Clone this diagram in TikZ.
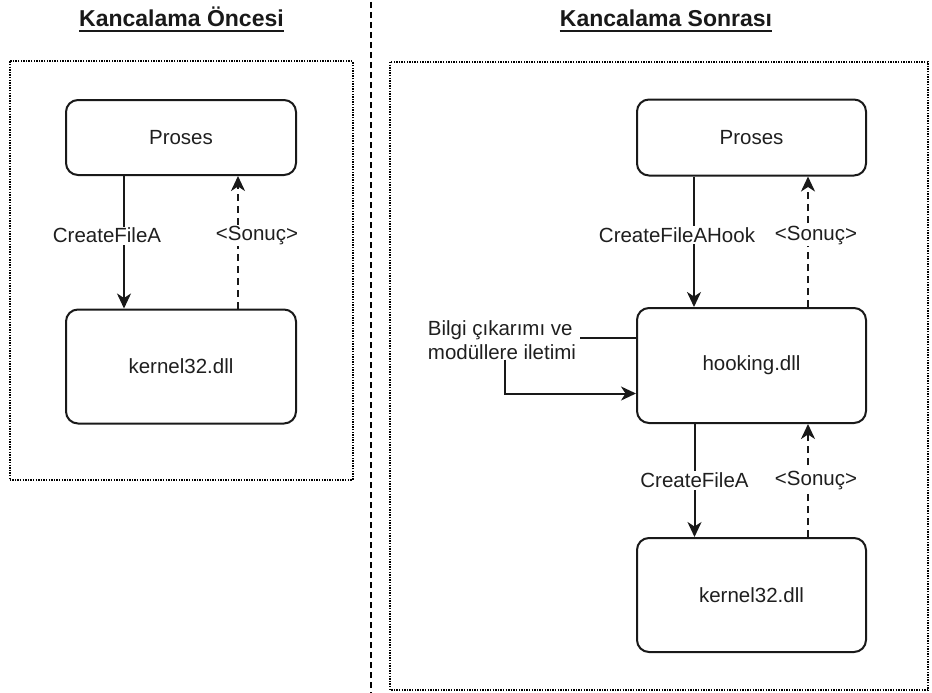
\documentclass[tikz,border=0pt]{standalone}
\usepackage{fontspec}
\setmainfont{Liberation Sans}
\usetikzlibrary{arrows.meta,calc}
\begin{document}
\begin{tikzpicture}[x=1pt,y=-1pt,
  txt/.style={text=black!88, font=\fontsize{20.5}{24}\selectfont},
  block/.style={draw=black!90, line width=2pt, rounded corners=12pt, inner sep=0pt, txt},
  panel/.style={draw=black, line width=2pt, dash pattern=on 1.4pt off 1.2pt},
  divider/.style={draw=black, line width=2.2pt, dash pattern=on 6pt off 4pt},
  heading/.style={font=\fontsize{23}{27}\selectfont\bfseries, text=black!90, inner sep=0pt},
  flow/.style={line width=2pt, draw=black!90, -{Stealth[length=15pt,width=14pt,inset=4.5pt]}},
  back/.style={flow, dash pattern=on 7pt off 5pt},
  lbl/.style={txt, fill=white, inner sep=1.5pt},
]
\useasboundingbox (0,0) rectangle (932,693);

% headings with underline
\node[heading, anchor=base] (t1) at (181.5,27) {Kancalama Öncesi};
\node[heading, anchor=base] (t2) at (666,27) {Kancalama Sonrası};
\draw[line width=2pt, black!90] ([yshift=-4.5pt]t1.base west) -- ([yshift=-4.5pt]t1.base east);
\draw[line width=2pt, black!90] ([yshift=-4.5pt]t2.base west) -- ([yshift=-4.5pt]t2.base east);

% separator and panels
\draw[divider] (371,2) -- (371,693);
\draw[panel] (9.5,61.5) rectangle (352.5,480);
\draw[panel] (390,62) rectangle (928,690);

% before hooking
\node[block, minimum width=230pt, minimum height=75pt] (lp) at (181,137.5) {Proses};
\node[block, minimum width=230pt, minimum height=114pt] (lk) at (181,366.5) {kernel32.dll};
\draw[flow] ([xshift=-57pt]lp.south) -- node[lbl, pos=0.45, xshift=-17pt] {CreateFileA} ([xshift=-57pt]lk.north);
\draw[back] ([xshift=57pt]lk.north) -- node[lbl, pos=0.55, xshift=19pt] {<Sonuç>} ([xshift=57pt]lp.south);

% after hooking
\node[block, minimum width=229pt, minimum height=76pt] (rp) at (751.5,137.5) {Proses};
\node[block, minimum width=229pt, minimum height=115pt] (hk) at (751.5,365.5) {hooking.dll};
\node[block, minimum width=229pt, minimum height=114pt] (rk) at (751.5,595) {kernel32.dll};

\draw[flow] ([xshift=-57.5pt]rp.south) -- node[lbl, pos=0.45, xshift=-17pt] {CreateFileAHook} ([xshift=-57.5pt]hk.north);
\draw[back] ([xshift=56.5pt]hk.north) -- node[lbl, pos=0.55, xshift=8pt] {<Sonuç>} ([xshift=56.5pt]rp.south);
\draw[flow] ([xshift=-57pt]hk.south) -- node[lbl, pos=0.5] {CreateFileA} ([xshift=-57pt]rk.north);
\draw[back] ([xshift=56.5pt]rk.north) -- node[lbl, pos=0.5, xshift=8pt] {<Sonuç>} ([xshift=56.5pt]hk.south);

% information extraction loop
\node[txt, align=left, inner sep=0pt] (info) at (502,340) {Bilgi çıkarımı ve\\modüllere iletimi};
\coordinate (tap) at ([yshift=28pt]hk.west);
\draw[line width=2pt, black!90] (tap) -- ($(info.east |- tap)+(4,0)$);
\draw[flow] ([xshift=3pt]info.south) |- ([yshift=-28pt]hk.west);
\end{tikzpicture}
\end{document}
